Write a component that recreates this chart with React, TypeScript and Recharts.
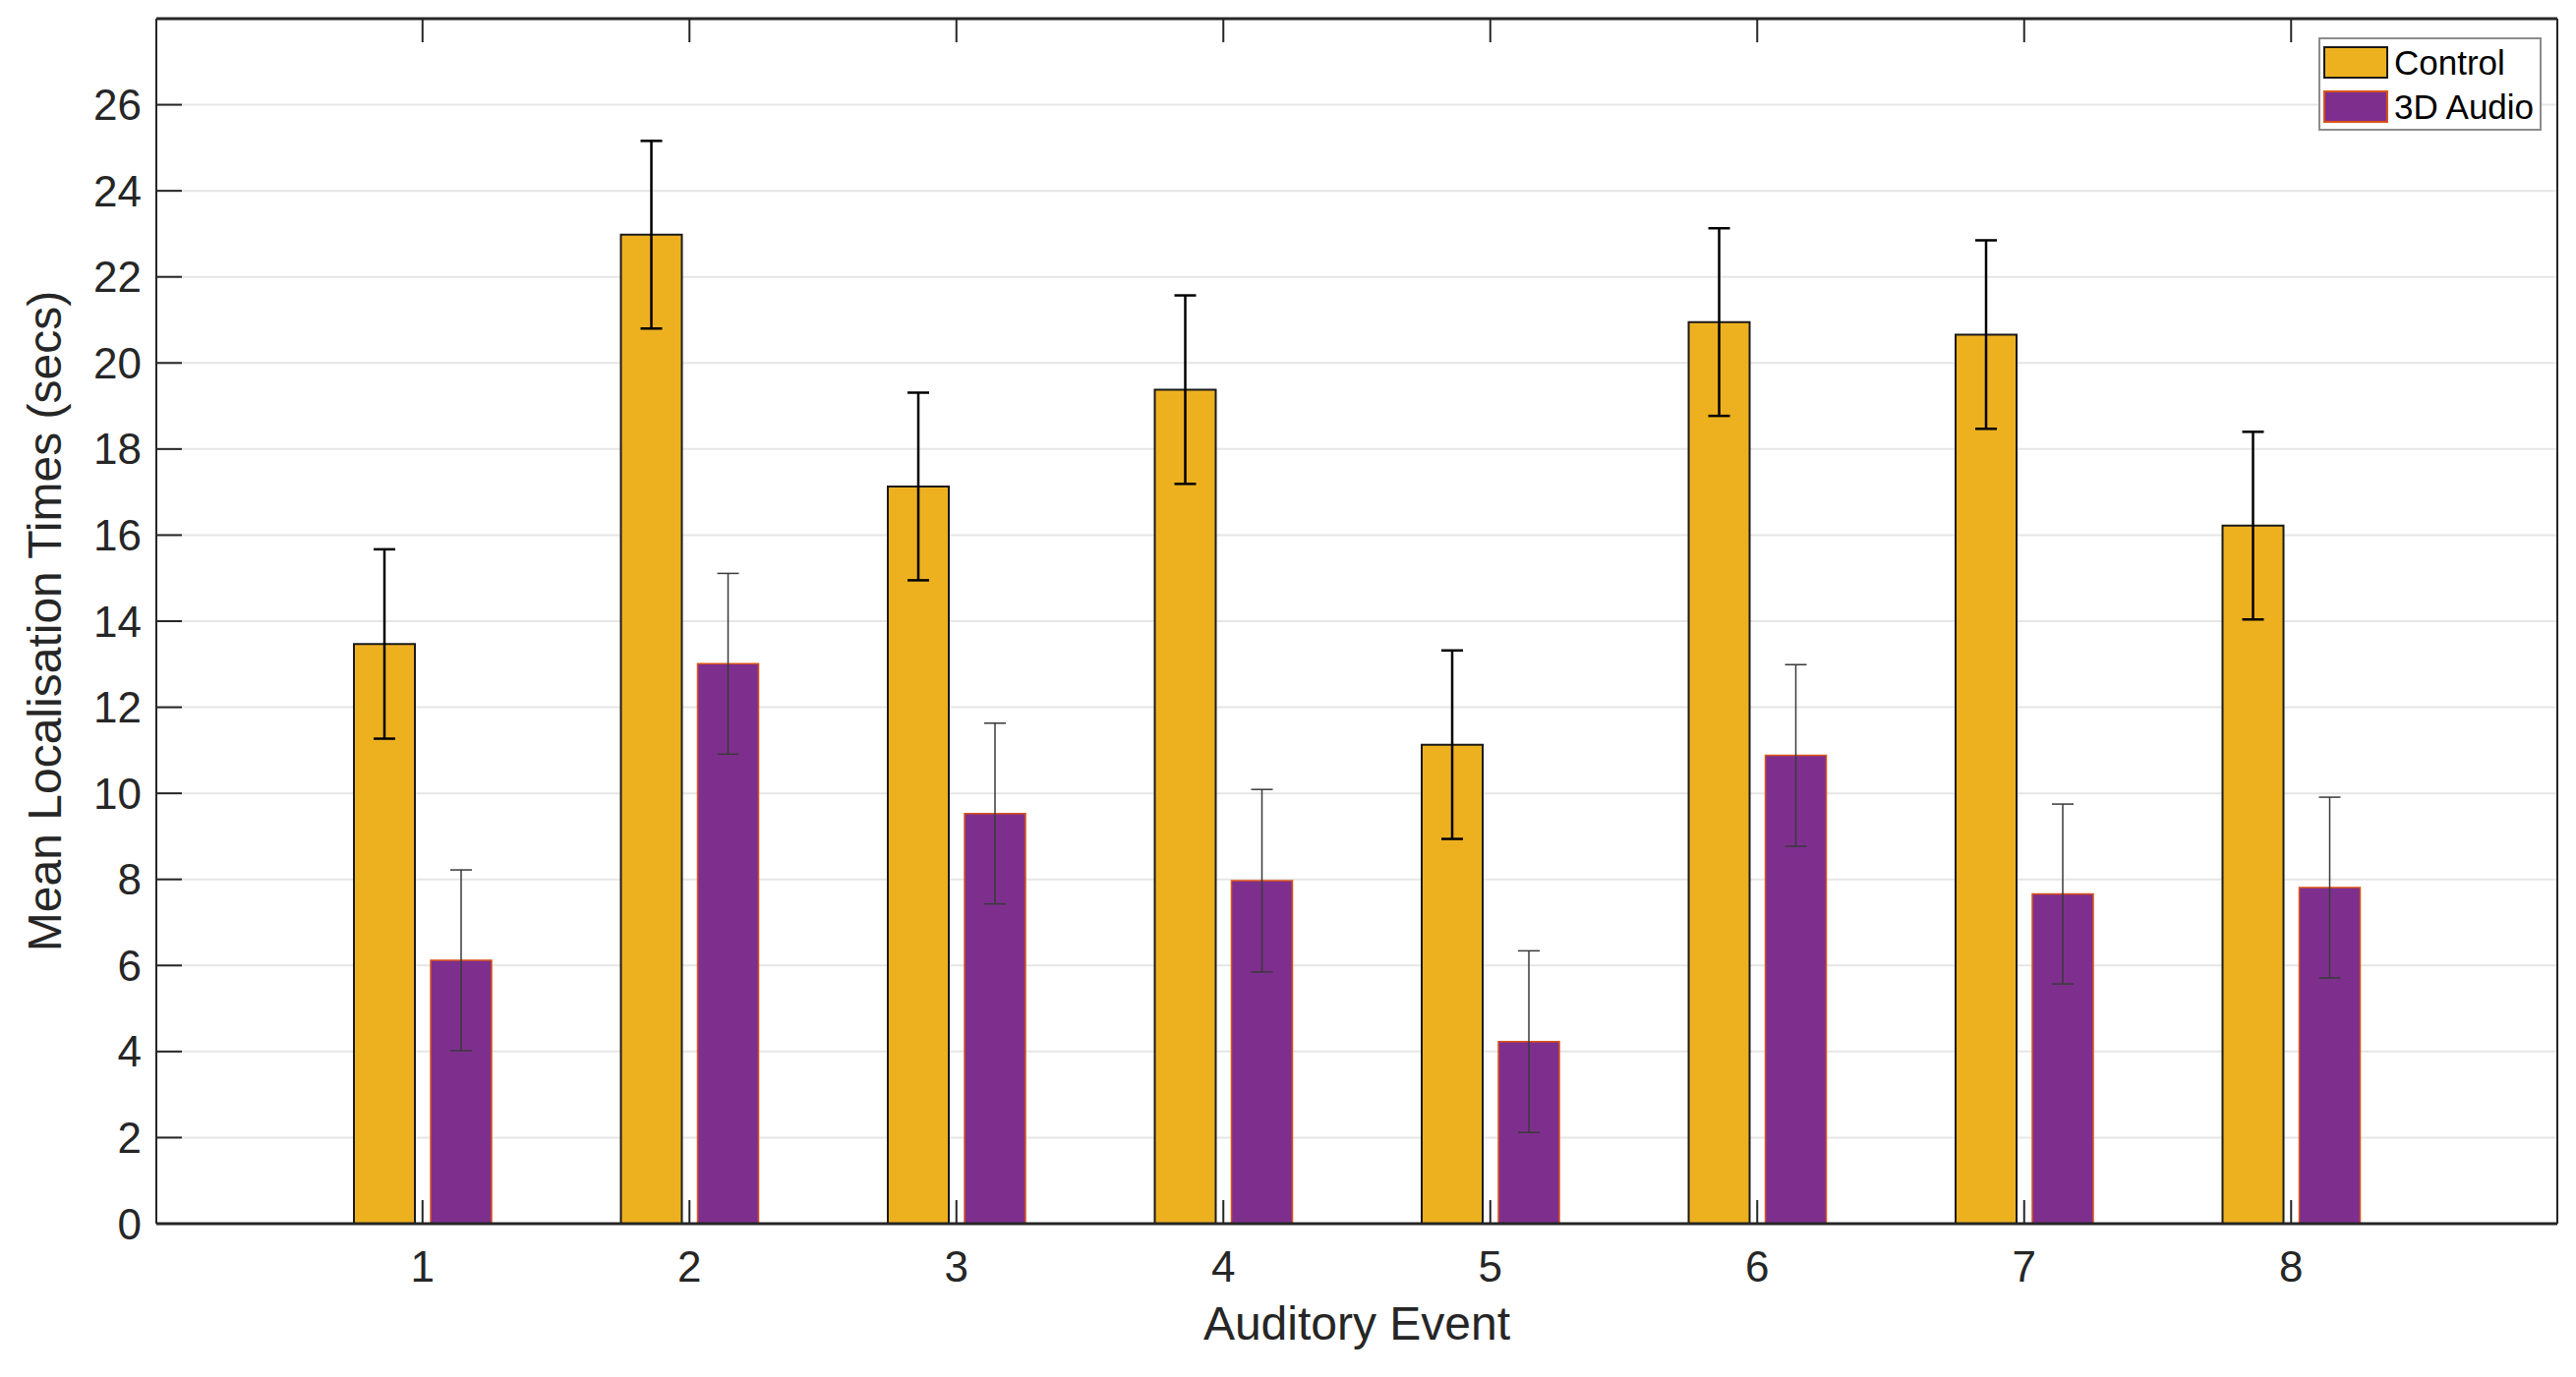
import React from "react";
import {
  BarChart,
  Bar,
  XAxis,
  YAxis,
  CartesianGrid,
  ErrorBar,
  Legend,
} from "recharts";

const events = ["1", "2", "3", "4", "5", "6", "7", "8"];
const control = [13.47, 22.98, 17.13, 19.38, 11.13, 20.95, 20.66, 16.22];
const controlErr = [2.2, 2.18, 2.18, 2.19, 2.19, 2.18, 2.19, 2.18];
const audio = [6.12, 13.01, 9.53, 7.97, 4.23, 10.88, 7.66, 7.81];
const audioErr = [2.1, 2.1, 2.1, 2.12, 2.11, 2.11, 2.09, 2.1];
const yTicks = [0, 2, 4, 6, 8, 10, 12, 14, 16, 18, 20, 22, 24, 26];
const yMinorTicks = Array.from({ length: 57 }, (_, i) => i * 0.5);

const series = [
  { key: "control", name: "Control", fill: "#EDB120", stroke: "#1a1a1a" },
  { key: "audio", name: "3D Audio", fill: "#7E2F8E", stroke: "#D95319" },
];

const data = events.map((e, i) => ({
  event: e,
  control: control[i],
  controlErr: controlErr[i],
  audio: audio[i],
  audioErr: audioErr[i],
}));

const FONT = "'Liberation Sans', Arial, Helvetica, sans-serif";
const AXIS = "#262626";

// ticks with line only, no label
const NoLabel = () => <g />;

const YTitle = (props: any) => {
  const vb = props.viewBox || { y: 19, height: 1226 };
  const cy = vb.y + vb.height / 2;
  return (
    <text
      x={62}
      y={cy}
      transform={`rotate(-90, 62, ${cy})`}
      textAnchor="middle"
      fontFamily={FONT}
      fontSize={48}
      fill={AXIS}
    >
      Mean Localisation Times (secs)
    </text>
  );
};

const XTitle = (props: any) => {
  const vb = props.viewBox || { x: 159, width: 2442 };
  const cx = vb.x + vb.width / 2;
  return (
    <text x={cx} y={1363} textAnchor="middle" fontFamily={FONT} fontSize={48} fill={AXIS}>
      Auditory Event
    </text>
  );
};

const renderLegend = () => (
  <div
    style={{
      boxSizing: "border-box",
      width: 227,
      height: 95,
      border: "2px solid #8c8c8c",
      background: "#fff",
      paddingTop: 1,
      fontFamily: FONT,
    }}
  >
    {series.map((s) => (
      <div key={s.key} style={{ display: "flex", alignItems: "center", height: 45 }}>
        <div
          style={{
            boxSizing: "border-box",
            width: 66,
            height: 33,
            marginLeft: 3,
            background: s.fill,
            border: `2px solid ${s.stroke}`,
          }}
        />
        <span style={{ marginLeft: 6, fontSize: 35, color: "#000", lineHeight: "40px" }}>
          {s.name}
        </span>
      </div>
    ))}
  </div>
);

export default function App() {
  return (
    <div style={{ position: "absolute", left: 0, top: 0, background: "#fff" }}>
      <BarChart
        width={2620}
        height={1401}
        data={data}
        margin={{ top: 18, right: 17, bottom: 155, left: 157 }}
        barSize={62}
        barGap={16}
      >
        <CartesianGrid vertical={false} stroke="#e6e6e6" strokeWidth={2} />
        <XAxis
          dataKey="event"
          height={1}
          padding={{ left: 135, right: 135 }}
          axisLine={{ stroke: AXIS, strokeWidth: 3 }}
          tickLine={{ stroke: AXIS, strokeWidth: 2 }}
          tickSize={-24}
          tickMargin={52}
          tick={{ fill: AXIS, fontSize: 44, fontFamily: FONT }}
          label={<XTitle />}
        />
        <XAxis
          xAxisId="top"
          orientation="top"
          dataKey="event"
          height={1}
          padding={{ left: 135, right: 135 }}
          axisLine={{ stroke: AXIS, strokeWidth: 3 }}
          tickLine={{ stroke: AXIS, strokeWidth: 2 }}
          tickSize={-24}
          tick={NoLabel}
        />
        <YAxis
          type="number"
          domain={[0, 28]}
          ticks={yTicks}
          width={1}
          interval={0}
          axisLine={{ stroke: AXIS, strokeWidth: 2 }}
          tickLine={{ stroke: AXIS, strokeWidth: 2 }}
          tickSize={-26}
          tickMargin={41}
          tick={{ fill: AXIS, fontSize: 44, fontFamily: FONT }}
          label={<YTitle />}
        />
        <YAxis
          yAxisId="lm"
          type="number"
          domain={[0, 28]}
          ticks={yMinorTicks}
          width={1}
          interval={0}
          axisLine={false}
          tickLine={{ stroke: "#555", strokeWidth: 1.5 }}
          tickSize={-12}
          tick={NoLabel}
        />
        <YAxis
          yAxisId="r"
          orientation="right"
          type="number"
          domain={[0, 28]}
          ticks={yTicks}
          width={1}
          interval={0}
          axisLine={{ stroke: AXIS, strokeWidth: 2 }}
          tickLine={{ stroke: AXIS, strokeWidth: 2 }}
          tickSize={-26}
          tick={NoLabel}
        />
        <YAxis
          yAxisId="rm"
          orientation="right"
          type="number"
          domain={[0, 28]}
          ticks={yMinorTicks}
          width={1}
          interval={0}
          axisLine={false}
          tickLine={{ stroke: "#555", strokeWidth: 1.5 }}
          tickSize={-12}
          tick={NoLabel}
        />
        <Legend
          layout="vertical"
          align="center"
          verticalAlign="middle"
          content={renderLegend}
          wrapperStyle={{ position: "absolute", left: 2358, top: 38, width: 227, height: 95 }}
        />
        <Bar
          dataKey="control"
          name="Control"
          fill="#EDB120"
          stroke="#1a1a1a"
          strokeWidth={2}
          isAnimationActive={false}
        >
          <ErrorBar dataKey="controlErr" width={11} stroke="#000" strokeWidth={2.5} direction="y" />
        </Bar>
        <Bar
          dataKey="audio"
          name="3D Audio"
          fill="#7E2F8E"
          stroke="#D95319"
          strokeWidth={1.5}
          isAnimationActive={false}
        >
          <ErrorBar dataKey="audioErr" width={11} stroke="#3a3a3a" strokeWidth={1.5} direction="y" />
        </Bar>
      </BarChart>
    </div>
  );
}
